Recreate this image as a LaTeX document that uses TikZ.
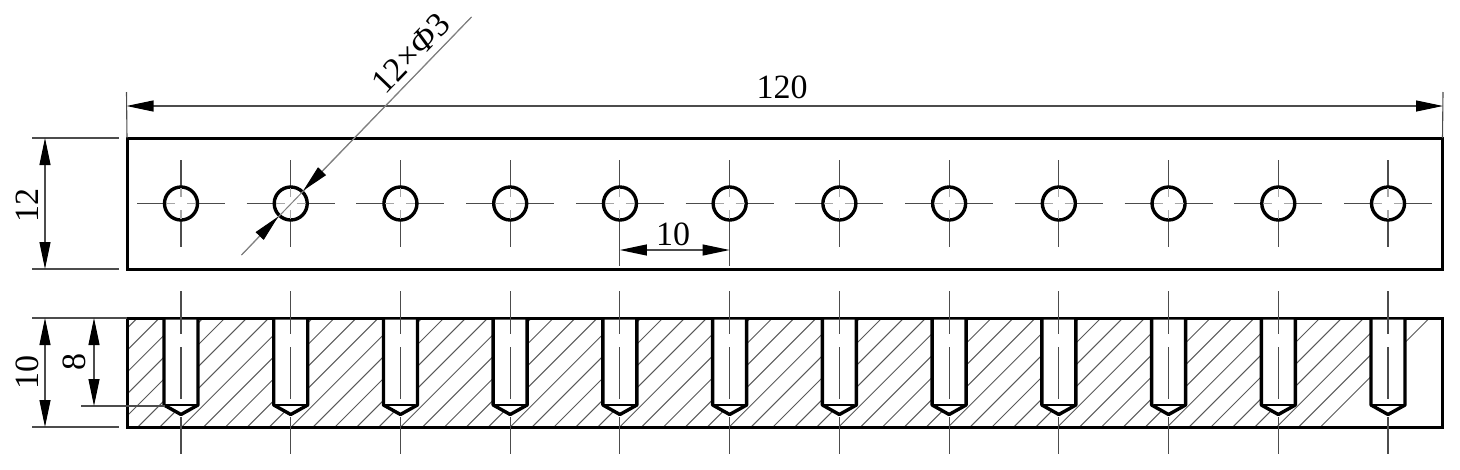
\documentclass[tikz,border=0pt]{standalone}
\usepackage{fontspec}
\setmainfont{Liberation Serif}
\usetikzlibrary{calc, arrows.meta}
\tikzstyle{part} = [draw, line width=3pt, rectangle, inner sep=0pt, outer sep=0pt]
\tikzstyle{hole} = [draw, line width=3.4pt, fill=white, circle, minimum size=33pt, inner sep=0pt]
\tikzstyle{thin} = [line width=1.1pt, draw=black!70]
\tikzstyle{hatch} = [line width=1pt, draw=black!65]
\tikzstyle{tip} = [{Triangle[length=27pt,width=11pt,black]}-{Triangle[length=27pt,width=11pt,black]}]
\tikzstyle{dim} = [line width=1.1pt, draw=black!70, tip]
\tikzstyle{label} = [font=\fontsize{34}{34}\selectfont, inner sep=0pt]

\begin{document}
\begin{tikzpicture}[x=1pt,y=-1pt]
      \useasboundingbox (0,0) rectangle (1460,469);
      % section view, hatching first
      \begin{scope}
        \clip (126.5,318) rectangle (1443,427);
        \foreach \k in {-5,...,60}
          \draw[hatch] ({1320-21.9*\k+5},{313}) -- ({1320-21.9*\k-120},{438});
      \end{scope}
      \node [part, minimum width=1315.5pt, minimum height=131pt] (plate) at (784.75,203.5) {};
      \node [part, minimum width=1315.5pt, minimum height=109pt] (side) at (784.75,372.5) {};
      % holes in both views
      \foreach \i in {0,...,11} {
        \pgfmathsetmacro{\cx}{181+109.73*\i}
        \coordinate (c\i) at (\cx,203.5);
        \draw[thin] (\cx-44,203.5) -- (\cx-6,203.5) (\cx-2,203.5) -- (\cx+2,203.5) (\cx+6,203.5) -- (\cx+44,203.5);
        \draw[thin] (\cx,160) -- (\cx,197) (\cx,201) -- (\cx,206) (\cx,210) -- (\cx,247);
        \node [hole] (h\i) at (c\i) {};
        \draw[thin, draw=black!35] (\cx-15,203.5) -- (\cx-6,203.5) (\cx+6,203.5) -- (\cx+15,203.5)
          (\cx,188) -- (\cx,197) (\cx,210) -- (\cx,219);
        \fill[white] (\cx-17,319.5) -- (\cx+17,319.5) -- (\cx+17,405) -- (\cx,417) -- (\cx-17,405) -- cycle;
        \draw[line width=3.4pt, line join=round] (\cx-17,318) -- (\cx-17,405) -- (\cx,414.5) -- (\cx+17,405) -- (\cx+17,318);
        \draw[line width=2pt] (\cx-15,405) -- (\cx+15,405);
        \draw[thin] (\cx,291) -- (\cx,334) (\cx,347) -- (\cx,399) (\cx,417) -- (\cx,454);
      }
      % overall length
      \coordinate (lena) at (126.5,106);
      \coordinate (lenb) at (1443,106);
      \draw[thin] (126.5,92) -- (plate.north west);
      \draw[thin] (1443,92) -- (plate.north east);
      \draw[dim] (lena) -- (lenb);
      \node [label] (len) at (782,87) {120};
      % width of plate
      \coordinate (wa) at (45,138);
      \coordinate (wb) at (45,269);
      \draw[thin] (32,138) -- (119,138) (32,269) -- (119,269);
      \draw[dim] (wa) -- (wb);
      \node [label, rotate=90] (wid) at (27,205) {12};
      % depth and height
      \coordinate (ha) at (45,318);
      \coordinate (hb) at (45,427);
      \coordinate (da) at (94,318);
      \coordinate (db) at (94,406);
      \draw[thin] (32,318) -- (side.north west) (32,427) -- (119,427) (81,406) -- (165,406);
      \draw[dim] (ha) -- (hb);
      \draw[dim] (da) -- (db);
      \node [label, rotate=90] (hei) at (27,372) {10};
      \node [label, rotate=90] (dep) at (74,362) {8};
      % pitch
      \draw[thin] (c4)+(0,43) -- +(0,62);
      \draw[thin] (c5)+(0,43) -- +(0,62);
      \coordinate (pa) at (619.9,250);
      \coordinate (pb) at (729.6,250);
      \draw[dim] (pa) -- (pb);
      \node [label] (pit) at (673,234) {10};
      % hole callout
      \coordinate (la) at (241.5,255);
      \coordinate (lb) at (471.5,17);
      \draw[line width=1pt, draw=black!50] (la) -- (lb);
      \draw[line width=1pt, draw=black!50, -{Triangle[length=27pt,width=11pt,black]}] (la) -- ($(c1)!18pt!(la)$);
      \draw[line width=1pt, draw=black!50, -{Triangle[length=27pt,width=11pt,black]}] (lb) -- ($(c1)!18pt!(lb)$);
      \node [label, rotate=46] (call) at (411,53) {12×\textit{Φ}3};
  \end{tikzpicture}
\end{document}
